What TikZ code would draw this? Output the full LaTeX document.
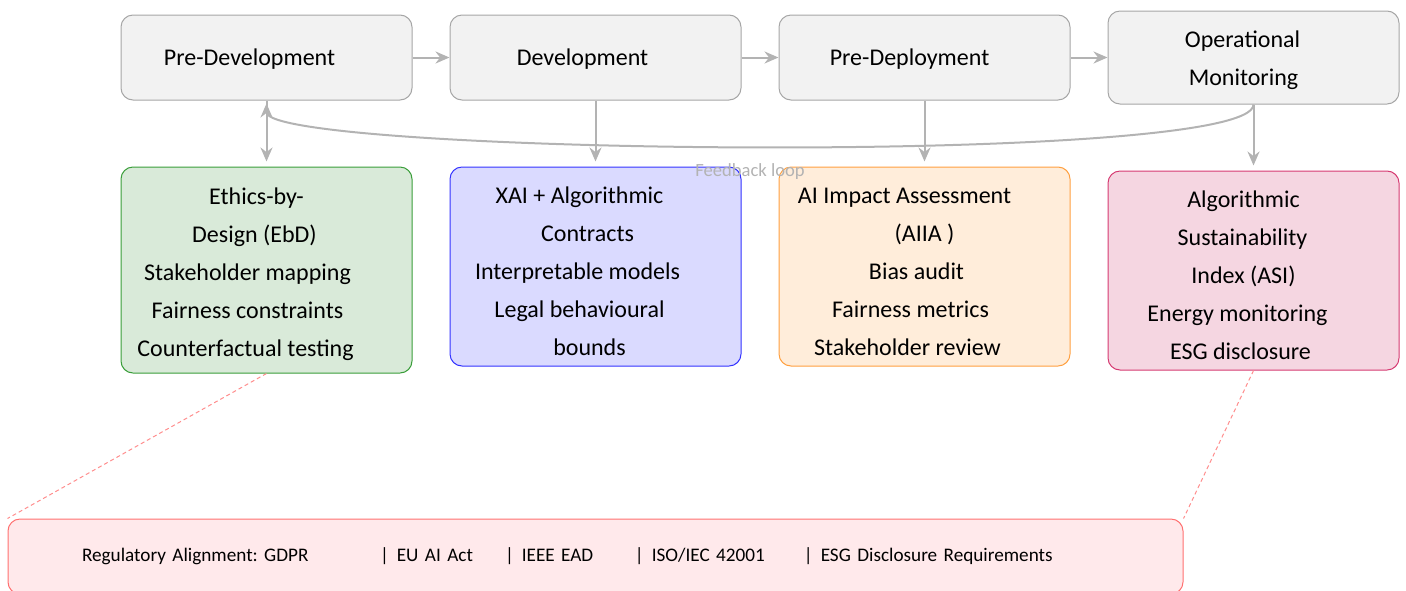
\documentclass[tikz,border=0pt]{standalone}
\usepackage{fontspec}
\setmainfont{Carlito}
\usetikzlibrary{arrows.meta, positioning}

\definecolor{stagefill}{HTML}{F2F2F2}
\definecolor{stageline}{HTML}{A6A6A6}
\definecolor{flowgray}{HTML}{B3B3B3}
\definecolor{ebdfill}{HTML}{D9EAD9}
\definecolor{ebdline}{HTML}{3A9E3A}
\definecolor{xaifill}{HTML}{DADAFF}
\definecolor{xailine}{HTML}{3333FF}
\definecolor{aiiafill}{HTML}{FFEDDA}
\definecolor{aiialine}{HTML}{FFA040}
\definecolor{asifill}{HTML}{F5D6E1}
\definecolor{asiline}{HTML}{D63A72}
\definecolor{regfill}{HTML}{FFE9EB}
\definecolor{regline}{HTML}{FF7070}

% right padding and top strut for the box texts
\newcommand{\padr}[1]{\rule{#1}{0pt}}
\newcommand{\topstrut}[1][13pt]{\rule{0pt}{#1}}

\frenchspacing
\begin{document}
\begin{tikzpicture}[
    x=0.5pt, y=-0.5pt,
    font=\fontsize{12}{19}\selectfont,
    stage/.style={draw=stageline, fill=stagefill, rounded corners=6pt, line width=0.5pt, align=center, minimum width=145.5pt, minimum height=42.5pt},
    tool/.style={rounded corners=6pt, line width=0.5pt, align=center, minimum width=145.5pt, minimum height=100pt},
    flow/.style={-{Stealth[length=7pt, width=6pt]}, draw=flowgray, line width=1pt},
    link/.style={draw=regline!80, line width=0.5pt, dash pattern=on 2pt off 1.5pt}
]
\useasboundingbox (0,0) rectangle (1406,590);

% lifecycle stages
\node[stage] (pre) at (266.5,57.5) {\topstrut[10pt]Pre-Development\padr{17pt}};
\node[stage] (dev) at (595.5,57.5) {\topstrut[10pt]Development\padr{13pt}};
\node[stage] (pdep) at (924.5,57.5) {\topstrut[10pt]Pre-Deployment\padr{15pt}};
\node[stage, minimum height=46.5pt] (ops) at (1253.5,57.5) {\topstrut[11pt]Operational\padr{11pt}\\Monitoring\padr{10pt}};

% governance tools
\node[tool, draw=ebdline, fill=ebdfill, minimum height=103pt] (ebd) at (266.5,270) {\topstrut Ethics-by-\padr{10pt}\\Design (EbD)\padr{12pt}\\Stakeholder mapping\padr{19pt}\\Fairness constraints\padr{19pt}\\Counterfactual testing\padr{21pt}};
\node[tool, draw=xailine, fill=xaifill, minimum height=99.5pt] (xai) at (595.5,266.5) {\topstrut XAI + Algorithmic\padr{16pt}\\Contracts\padr{8pt}\\Interpretable models\padr{18pt}\\Legal behavioural\padr{16pt}\\bounds\padr{6pt}};
\node[tool, draw=aiialine, fill=aiiafill, minimum height=99.5pt] (aiia) at (924.5,266.5) {\topstrut AI Impact Assessment\padr{20pt}\\(AIIA )\\Bias audit\padr{8pt}\\Fairness metrics\padr{14pt}\\Stakeholder review\padr{17pt}};
\node[tool, draw=asiline, fill=asifill, minimum height=99.5pt] (asi) at (1253.5,270.5) {\topstrut Algorithmic\padr{10pt}\\Sustainability\padr{11pt}\\Index (ASI)\padr{10pt}\\Energy monitoring\padr{16pt}\\ESG disclosure\padr{13pt}};

% regulation band
\node[draw=regline, fill=regfill, rounded corners=6pt, line width=0.5pt, minimum width=587.5pt, minimum height=37.5pt, inner xsep=37pt, text width=513.5pt, align=left, font=\fontsize{9.6}{11}\selectfont] (reg) at (595.5,556.5)
  {\makebox[149pt][l]{Regulatory Alignment: GDPR}\makebox[62.5pt][l]{|\hspace{4pt}EU AI Act}\makebox[65pt][l]{|\hspace{4pt}IEEE EAD}\makebox[84.5pt][l]{|\hspace{4pt}ISO/IEC 42001}|\hspace{4pt}ESG Disclosure Requirements};

\draw[flow] (pre) -- (dev);
\draw[flow] (dev) -- (pdep);
\draw[flow] (pdep) -- (ops);

\draw[flow, shorten >=2.5pt] (pre.south) -- (ebd.north);
\draw[flow, shorten >=2.5pt] (dev.south) -- (xai.north);
\draw[flow, shorten >=2.5pt] (pdep.south) -- (aiia.north);
\draw[flow, shorten >=2.5pt] (ops.south) -- (asi.north);

% feedback
\draw[flow, shorten >=1.5pt] (ops.south) .. controls +(0,62) and +(0,54) .. (pre.south);

\draw[link] (ebd.south) -- (reg.north west);
\draw[link] (asi.south) -- (reg.north east);

\node[text=flowgray, font=\fontsize{9.3}{10}\selectfont] (fbtext) at (750,172) {Feedback loop};
\end{tikzpicture}
\end{document}
